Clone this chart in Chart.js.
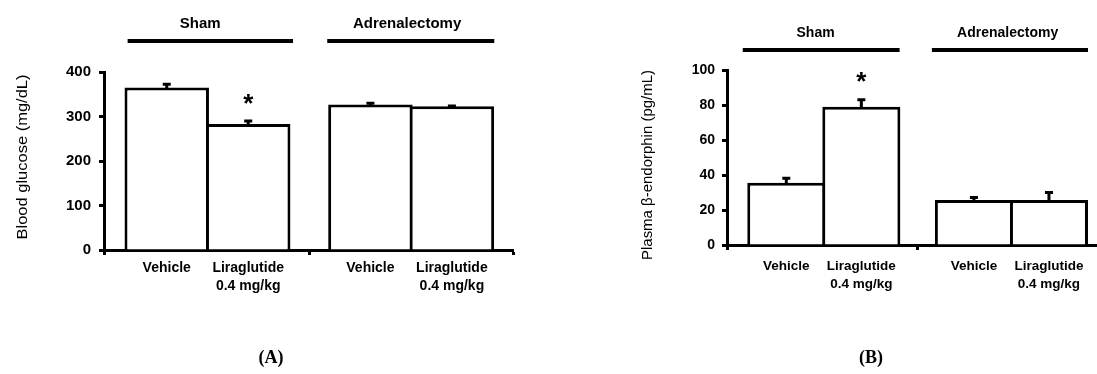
<!DOCTYPE html>
<html>
<head>
<meta charset="utf-8">
<script src="https://cdn.jsdelivr.net/npm/chart.js@4"></script>
<style>
  html, body { margin: 0; padding: 0; background: #fff; }
  #wrap { position: relative; width: 1097px; height: 374px; overflow: hidden; background: #fff; }
  canvas { position: absolute; top: 0; }
  #cA { left: 0; }
  #cB { left: 548px; }
</style>
</head>
<body>
<div id="wrap">
  <canvas id="cA" width="548" height="374"></canvas>
  <canvas id="cB" width="549" height="374"></canvas>
</div>
<script>
// ---------------- DATA ----------------
const categories = ['Vehicle', ['Liraglutide', '0.4 mg/kg'], 'Vehicle', ['Liraglutide', '0.4 mg/kg']];
const groups = ['Sham', 'Adrenalectomy'];
const glucoseMean = [365, 283, 327, 323];
const glucoseErr = [11, 10, 6, 4];
const endorphinMean = [35.6, 79, 25.7, 25.7];
const endorphinErr = [3.4, 4.8, 2.3, 5.2];
const significant = [false, true, false, false];
const glucoseTicks = [0, 100, 200, 300, 400];
const endorphinTicks = [0, 20, 40, 60, 80, 100];
const glucoseTitle = 'Blood glucose (mg/dL)';
const endorphinTitle = 'Plasma β-endorphin (pg/mL)';
const panelLabels = ['(A)', '(B)'];

// ---------------- LAYOUT ----------------
const barSlots = [0.5, 1.5, 3.0, 4.0];   // slot of each bar on the x axis
const gapSlot = 2.25;
const BORDER = 3;
const SANS = "'Liberation Sans', Arial, sans-serif";
const SERIF = "'Liberation Serif', 'Times New Roman', serif";

function makeAnnot(cfg) {
  return {
    id: 'annot' + cfg.key,
    afterDatasetsDraw(chart) {
      const ctx = chart.ctx;
      const ys = chart.scales.y;
      const meta = chart.getDatasetMeta(0);
      ctx.save();
      ctx.strokeStyle = '#000';
      ctx.fillStyle = '#000';
      ctx.lineWidth = 3;
      cfg.errs.forEach((e, i) => {
        const el = meta.data[i];
        const yTop = ys.getPixelForValue(cfg.means[i] + e);
        ctx.beginPath();
        ctx.moveTo(el.x, el.y + 1);
        ctx.lineTo(el.x, yTop);
        ctx.moveTo(el.x - 4, yTop + 1.5);
        ctx.lineTo(el.x + 4, yTop + 1.5);
        ctx.stroke();
        if (cfg.sig[i]) {
          const fs = 26;
          ctx.font = 'bold ' + fs + 'px ' + SANS;
          ctx.textAlign = 'center';
          ctx.textBaseline = 'alphabetic';
          ctx.fillText('*', el.x, yTop - cfg.starGap + 0.58 * fs);
        }
      });
      ctx.restore();
    },
    afterDraw(chart) {
      const ctx = chart.ctx;
      const xs = chart.scales.x;
      ctx.save();
      ctx.fillStyle = '#000';
      ctx.strokeStyle = '#000';
      groups.forEach((g, i) => {
        const [a, b] = cfg.lines[i];
        ctx.lineWidth = 4;
        ctx.beginPath();
        ctx.moveTo(xs.getPixelForValue(a), cfg.lineY);
        ctx.lineTo(xs.getPixelForValue(b), cfg.lineY);
        ctx.stroke();
        ctx.font = 'bold ' + cfg.headSize + 'px ' + SANS;
        ctx.textAlign = 'center';
        ctx.textBaseline = 'middle';
        ctx.fillText(g, xs.getPixelForValue(cfg.textX[i]), cfg.textY);
      });
      // y title (stretched along its length like the original)
      ctx.save();
      ctx.translate(cfg.titleX, cfg.titleY);
      ctx.rotate(-Math.PI / 2);
      ctx.font = '14px ' + SANS;
      const w = ctx.measureText(cfg.title).width;
      ctx.scale(cfg.titleLen / w, 1);
      ctx.textAlign = 'center';
      ctx.textBaseline = 'middle';
      ctx.fillText(cfg.title, 0, 0);
      ctx.restore();
      // panel label
      ctx.font = 'bold 18px ' + SERIF;
      ctx.textAlign = 'center';
      ctx.textBaseline = 'middle';
      ctx.fillText(cfg.panel, cfg.panelX, cfg.panelY);
      ctx.restore();
    }
  };
}

function makeChart(canvas, cfg) {
  const markTicks = cfg.markTicks;
  const allTicks = [...markTicks, ...barSlots].sort((a, b) => a - b);
  // bars one slot wide plus one border width, so neighbours share a single outline
  const areaWidth = canvas.width - cfg.yWidth - cfg.padRight;
  const slotPx = areaWidth / (cfg.xmax - cfg.xmin);
  const minTickGap = 0.75;
  const barPct = (1 + BORDER / slotPx) / minTickGap;
  return new Chart(canvas, {
    type: 'bar',
    data: {
      datasets: [{
        data: cfg.means.map((m, i) => ({ x: barSlots[i], y: m })),
        backgroundColor: '#fff',
        borderColor: '#000',
        borderWidth: { top: BORDER, left: BORDER, right: BORDER, bottom: 0 },
        borderSkipped: 'start',
        barPercentage: barPct,
        categoryPercentage: 1
      }]
    },
    options: {
      responsive: false,
      animation: false,
      devicePixelRatio: 1,
      layout: { padding: { top: cfg.top, right: cfg.padRight, left: 0, bottom: 0 } },
      plugins: { legend: { display: false }, tooltip: { enabled: false }, title: { display: false } },
      scales: {
        x: {
          type: 'linear',
          min: cfg.xmin,
          max: cfg.xmax,
          offset: false,
          z: 1,
          afterBuildTicks: (s) => { s.ticks = allTicks.map(v => ({ value: v })); },
          afterFit: (s) => { s.height = cfg.xHeight; },
          grid: {
            offset: false,
            drawOnChartArea: false,
            drawTicks: true,
            tickLength: 5,
            tickWidth: 3,
            tickColor: (c) => (c.tick && markTicks.includes(c.tick.value)) ? '#000' : 'rgba(0,0,0,0)'
          },
          border: { display: true, color: '#000', width: 3 },
          ticks: {
            autoSkip: false,
            maxRotation: 0,
            minRotation: 0,
            padding: cfg.xPad,
            color: '#000',
            font: { family: SANS, size: cfg.catSize, weight: 'bold', lineHeight: cfg.catLH },
            callback: (v) => {
              const i = barSlots.indexOf(v);
              return i >= 0 ? categories[i] : '';
            }
          }
        },
        y: {
          min: 0,
          max: cfg.yTicks[cfg.yTicks.length - 1],
          z: 1,
          afterBuildTicks: (s) => { s.ticks = cfg.yTicks.map(v => ({ value: v })); },
          afterFit: (s) => { s.width = cfg.yWidth; },
          grid: { drawOnChartArea: false, drawTicks: true, tickLength: 5, tickWidth: 3, tickColor: '#000' },
          border: { display: true, color: '#000', width: 3 },
          ticks: {
            padding: cfg.yPad,
            color: '#000',
            font: { family: SANS, size: cfg.tickSize, weight: 'bold' }
          }
        }
      }
    },
    plugins: [makeAnnot(cfg)]
  });
}

makeChart(document.getElementById('cA'), {
  key: 'A',
  means: glucoseMean, errs: glucoseErr, sig: significant, yTicks: glucoseTicks,
  xmin: -0.27, xmax: 4.75, markTicks: [-0.27, gapSlot, 4.75],
  top: 72, padRight: 35, xHeight: 124, yWidth: 104,
  xPad: 4, yPad: 8, catSize: 14, catLH: 1.3, tickSize: 15, starGap: 23,
  lines: [[0.02, 2.05], [2.47, 4.52]], lineY: 41, textX: [0.91, 3.45], textY: 24, headSize: 15,
  title: glucoseTitle, titleX: 23, titleY: 157, titleLen: 165,
  panel: panelLabels[0], panelX: 271, panelY: 358
});

makeChart(document.getElementById('cB'), {
  key: 'B',
  means: endorphinMean, errs: endorphinErr, sig: significant, yTicks: endorphinTicks,
  xmin: -0.29, xmax: 4.64, markTicks: [-0.29, gapSlot],
  top: 70, padRight: 0, xHeight: 129, yWidth: 179,
  xPad: 7, yPad: 7, catSize: 13.5, catLH: 1.34, tickSize: 14, starGap: 23,
  lines: [[-0.08, 2.01], [2.44, 4.52]], lineY: 50, textX: [0.89, 3.45], textY: 33, headSize: 14,
  title: endorphinTitle, titleX: 100, titleY: 165, titleLen: 190,
  panel: panelLabels[1], panelX: 323, panelY: 358
});
</script>
</body>
</html>
